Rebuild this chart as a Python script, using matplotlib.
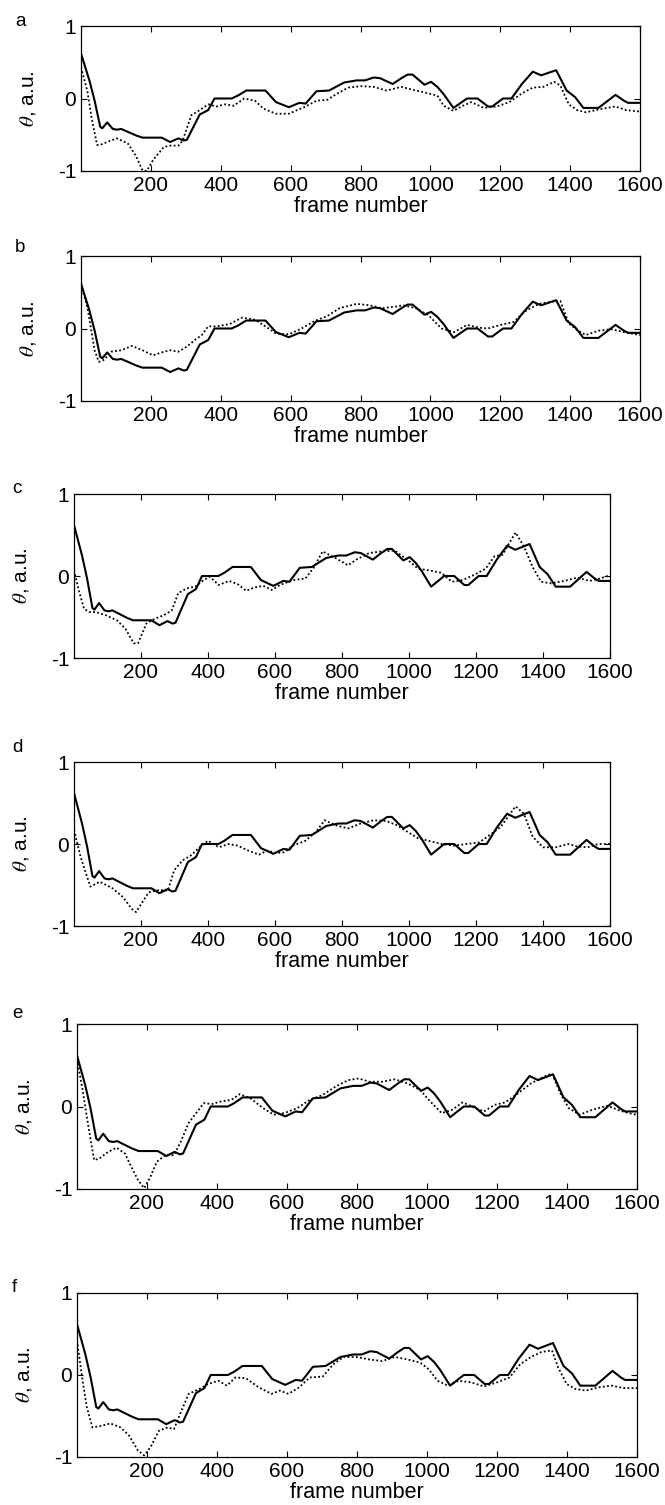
import matplotlib
matplotlib.use("Agg")
import matplotlib.pyplot as plt

plt.rcParams['font.family'] = ['Liberation Sans', 'DejaVu Sans']
plt.rcParams['mathtext.fontset'] = 'stix'

# ---- data ----
frames_solid = [0, 24, 39, 55, 61, 75, 91, 103, 115, 158, 176, 231, 255, 279, 294, 303, 322, 340, 364, 382,
                431, 449, 473, 528, 558, 595, 625, 643, 674, 710, 753, 789, 813, 838, 856, 892, 917, 935,
                949, 983, 1002, 1020, 1038, 1066, 1105, 1135, 1165, 1177, 1208, 1232, 1262, 1293, 1317,
                1360, 1390, 1414, 1438, 1481, 1530, 1554, 1566, 1600]
theta_solid = [0.62, 0.25, -0.03, -0.39, -0.41, -0.33, -0.42, -0.43, -0.42, -0.51, -0.54, -0.54, -0.60, -0.55,
               -0.58, -0.57, -0.39, -0.22, -0.16, 0.0, 0.0, 0.04, 0.11, 0.11, -0.05, -0.12, -0.06, -0.07,
               0.10, 0.11, 0.22, 0.25, 0.25, 0.29, 0.28, 0.20, 0.28, 0.33, 0.33, 0.19, 0.23, 0.16, 0.06,
               -0.13, 0.0, 0.0, -0.11, -0.11, 0.0, 0.0, 0.20, 0.37, 0.32, 0.39, 0.11, 0.02, -0.13, -0.13,
               0.05, -0.03, -0.06, -0.06]

frames_a = [0, 18, 30, 46, 55, 85, 103, 134, 158, 176, 188, 206, 237, 255, 279, 291, 316, 340, 364, 388, 413,
            437, 467, 498, 522, 558, 595, 619, 643, 674, 704, 734, 765, 801, 838, 874, 917, 959, 995, 1020,
            1038, 1066, 1093, 1117, 1153, 1190, 1226, 1262, 1293, 1323, 1354, 1372, 1396, 1420, 1445, 1493,
            1530, 1560, 1600]
theta_a = [0.43, 0.11, -0.26, -0.64, -0.64, -0.58, -0.55, -0.62, -0.80, -0.99, -1.0, -0.85, -0.67, -0.65,
           -0.65, -0.58, -0.23, -0.16, -0.08, -0.11, -0.08, -0.10, 0.0, -0.03, -0.14, -0.21, -0.21, -0.16,
           -0.11, -0.03, -0.02, 0.07, 0.15, 0.17, 0.16, 0.11, 0.16, 0.11, 0.07, 0.04, -0.10, -0.17, -0.10,
           -0.05, -0.13, -0.11, -0.05, 0.07, 0.15, 0.16, 0.23, 0.18, -0.08, -0.16, -0.19, -0.14, -0.11,
           -0.16, -0.18]

frames_b = [0, 18, 39, 51, 67, 85, 115, 146, 176, 206, 231, 255, 279, 303, 328, 346, 364, 388, 425, 461, 498,
            534, 558, 595, 631, 668, 704, 740, 789, 826, 862, 898, 922, 959, 995, 1032, 1068, 1105, 1141,
            1165, 1202, 1238, 1275, 1311, 1347, 1372, 1396, 1420, 1445, 1481, 1518, 1554, 1600]
theta_b = [0.60, 0.30, -0.30, -0.46, -0.43, -0.32, -0.30, -0.24, -0.30, -0.37, -0.33, -0.30, -0.32, -0.25,
           -0.15, -0.09, 0.03, 0.03, 0.06, 0.15, 0.12, 0.01, -0.07, -0.08, 0.0, 0.10, 0.17, 0.28, 0.34, 0.32,
           0.28, 0.30, 0.32, 0.28, 0.18, 0.0, -0.05, 0.05, 0.01, 0.0, 0.05, 0.09, 0.25, 0.34, 0.37, 0.38,
           0.07, -0.02, -0.09, -0.03, -0.01, -0.05, -0.09]

frames_c = [0, 14, 30, 46, 65, 96, 128, 153, 178, 191, 216, 242, 267, 292, 311, 337, 362, 387, 406, 432, 463,
            489, 514, 539, 565, 590, 615, 653, 691, 717, 742, 780, 818, 843, 881, 919, 957, 995, 1027, 1058,
            1096, 1128, 1160, 1198, 1229, 1255, 1280, 1299, 1318, 1343, 1369, 1394, 1425, 1463, 1501, 1539,
            1571, 1600]
theta_c = [0.07, -0.17, -0.40, -0.44, -0.44, -0.48, -0.54, -0.64, -0.82, -0.82, -0.58, -0.52, -0.48, -0.42,
           -0.21, -0.15, -0.13, -0.05, -0.01, -0.11, -0.06, -0.10, -0.18, -0.14, -0.12, -0.17, -0.11, -0.05,
           -0.03, 0.11, 0.30, 0.22, 0.13, 0.20, 0.28, 0.30, 0.31, 0.20, 0.09, 0.07, 0.04, -0.07, -0.05, 0.02,
           0.09, 0.24, 0.26, 0.40, 0.53, 0.36, 0.11, -0.07, -0.09, -0.06, -0.02, -0.06, -0.03, 0.01]

frames_d = [0, 20, 39, 49, 77, 115, 147, 172, 185, 204, 223, 254, 280, 299, 324, 349, 375, 400, 432, 463, 489,
            514, 552, 577, 603, 628, 653, 691, 723, 748, 780, 818, 856, 894, 932, 963, 995, 1027, 1058, 1096,
            1134, 1172, 1210, 1248, 1274, 1299, 1318, 1343, 1369, 1400, 1438, 1476, 1501, 1533, 1565, 1600]
theta_d = [0.17, -0.16, -0.40, -0.52, -0.46, -0.54, -0.65, -0.79, -0.83, -0.71, -0.59, -0.56, -0.57, -0.32,
           -0.20, -0.14, -0.04, 0.04, -0.04, 0.0, -0.02, -0.07, -0.13, -0.08, -0.11, -0.10, -0.02, 0.04, 0.15,
           0.29, 0.23, 0.19, 0.25, 0.29, 0.28, 0.23, 0.15, 0.07, 0.04, 0.0, -0.02, 0.0, 0.02, 0.13, 0.21,
           0.35, 0.46, 0.37, 0.09, -0.04, -0.04, 0.0, -0.03, -0.04, 0.0, 0.0]

frames_e = [0, 16, 34, 49, 64, 89, 113, 137, 155, 174, 192, 210, 228, 252, 277, 295, 319, 344, 362, 386, 410,
            441, 465, 495, 532, 562, 592, 629, 665, 702, 738, 775, 805, 835, 872, 908, 944, 981, 1005, 1042,
            1072, 1102, 1139, 1163, 1193, 1224, 1260, 1297, 1333, 1357, 1381, 1405, 1436, 1472, 1515, 1551,
            1576, 1600]
theta_e = [0.57, 0.20, -0.28, -0.65, -0.63, -0.55, -0.50, -0.57, -0.73, -0.89, -0.99, -0.85, -0.67, -0.59,
           -0.59, -0.44, -0.20, -0.06, 0.04, 0.03, 0.06, 0.08, 0.15, 0.10, -0.02, -0.10, -0.08, -0.02, 0.08,
           0.14, 0.24, 0.32, 0.34, 0.30, 0.30, 0.33, 0.28, 0.20, 0.08, -0.08, -0.04, 0.05, -0.02, -0.06,
           0.02, 0.05, 0.16, 0.28, 0.36, 0.40, 0.16, -0.02, -0.10, -0.04, 0.01, -0.05, -0.08, -0.10]

frames_f = [0, 16, 28, 44, 70, 95, 125, 149, 174, 192, 210, 234, 259, 277, 295, 319, 350, 374, 404, 428, 453,
            483, 519, 556, 580, 604, 635, 665, 702, 732, 762, 799, 835, 872, 908, 944, 981, 1005, 1030, 1060,
            1090, 1127, 1163, 1200, 1236, 1266, 1297, 1327, 1357, 1375, 1399, 1424, 1454, 1491, 1527, 1563,
            1600]
theta_f = [0.42, -0.07, -0.39, -0.64, -0.62, -0.59, -0.64, -0.74, -0.92, -0.98, -0.88, -0.68, -0.64, -0.66,
           -0.47, -0.23, -0.17, -0.11, -0.07, -0.13, -0.03, -0.04, -0.15, -0.23, -0.19, -0.23, -0.15, -0.03,
           -0.02, 0.13, 0.22, 0.22, 0.19, 0.17, 0.22, 0.19, 0.15, 0.07, -0.07, -0.13, -0.07, -0.09, -0.14,
           -0.09, -0.03, 0.13, 0.22, 0.28, 0.30, 0.09, -0.11, -0.17, -0.19, -0.15, -0.13, -0.16, -0.16]

panel_letters = ['a', 'b', 'c', 'd', 'e', 'f']
dotted_frames = [frames_a, frames_b, frames_c, frames_d, frames_e, frames_f]
dotted_theta = [theta_a, theta_b, theta_c, theta_d, theta_e, theta_f]
xticks = [200, 400, 600, 800, 1000, 1200, 1400, 1600]
xticklabels = ['200', '400', '600', '800', '1000', '1200', '1400', '1600']
yticks = [-1, 0, 1]
yticklabels = ['-1', '0', '1']

# ---- layout (pixel boxes: left, right, top, bottom) ----
W, H = 665, 1505
boxes = [(81, 640, 26, 171), (81, 640, 256, 401), (74, 610, 494, 658),
         (74, 610, 762, 926), (77, 637, 1024, 1189), (77, 637, 1293, 1457)]
letter_pos = [(21, 22), (20, 248), (17, 489), (17, 748), (17, 1013), (14, 1288)]

fig = plt.figure(figsize=(W / 100, H / 100), dpi=100)

for i in range(6):
    l, r, t, b = boxes[i]
    ax = fig.add_axes([l / W, 1 - b / H, (r - l) / W, (b - t) / H])
    ax.plot(frames_solid, theta_solid, color='black', lw=1.5, ls='-')
    ax.plot(dotted_frames[i], dotted_theta[i], color='black', lw=1.3, ls=(0, (1, 1.3)))
    ax.set_xlim(0, 1600)
    ax.set_ylim(-1, 1)
    ax.set_xticks(xticks)
    ax.set_xticklabels(xticklabels)
    ax.set_yticks(yticks)
    ax.set_yticklabels(yticklabels)
    ax.tick_params(direction='in', length=4, width=0.8, top=True, right=True,
                   labelsize=15, pad=3.5)
    for sp in ax.spines.values():
        sp.set_linewidth(0.9)
    ax.set_xlabel('frame number', fontsize=15.5, labelpad=1)
    ax.set_ylabel(r'$\theta$, a.u.', fontsize=15)
    ax.yaxis.set_label_coords(-43 / (r - l), 0.5)
    lx, ly = letter_pos[i]
    fig.text(lx / W, 1 - ly / H, panel_letters[i], fontsize=13.5, ha='center', va='center')

fig.savefig('out.png', dpi=100)
